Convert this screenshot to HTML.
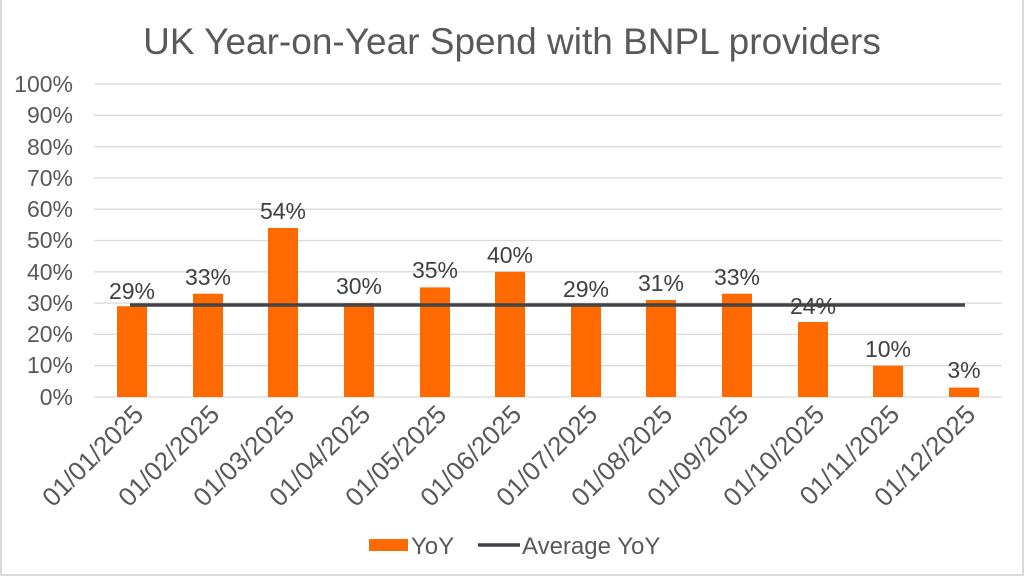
<!DOCTYPE html>
<html><head><meta charset="utf-8"><style>
html,body{margin:0;padding:0;background:#fff}
svg{display:block;font-family:"Liberation Sans",Arial,sans-serif}
</style></head><body>
<svg width="1024" height="577" viewBox="0 0 1024 577" xmlns="http://www.w3.org/2000/svg">
<rect x="0" y="0" width="1024" height="577" fill="#fff"/>
<rect x="1" y="-2" width="1022" height="577" fill="none" stroke="#d9d9d9" stroke-width="2"/>
<text x="512" y="54" text-anchor="middle" font-size="37" fill="#595959">UK Year-on-Year Spend with BNPL providers</text>
<g stroke="#d9d9d9" stroke-width="1.3">
<line x1="94" x2="1002" y1="84" y2="84"/><line x1="94" x2="1002" y1="115.3" y2="115.3"/>
<line x1="94" x2="1002" y1="146.6" y2="146.6"/><line x1="94" x2="1002" y1="177.9" y2="177.9"/>
<line x1="94" x2="1002" y1="209.2" y2="209.2"/><line x1="94" x2="1002" y1="240.5" y2="240.5"/>
<line x1="94" x2="1002" y1="271.8" y2="271.8"/><line x1="94" x2="1002" y1="303.1" y2="303.1"/>
<line x1="94" x2="1002" y1="334.4" y2="334.4"/><line x1="94" x2="1002" y1="365.7" y2="365.7"/>
<line x1="94" x2="1002" y1="397" y2="397"/>
</g>
<g font-size="23" fill="#595959" text-anchor="end">
<text x="73" y="92">100%</text><text x="73" y="123">90%</text><text x="73" y="155">80%</text>
<text x="73" y="186">70%</text><text x="73" y="217">60%</text><text x="73" y="248">50%</text>
<text x="73" y="280">40%</text><text x="73" y="311">30%</text><text x="73" y="342">20%</text>
<text x="73" y="373">10%</text><text x="73" y="405">0%</text>
</g>
<g fill="#ff6a00">
<rect x="117" y="306.2" width="30" height="90.8"/>
<rect x="193" y="293.7" width="30" height="103.3"/>
<rect x="268" y="228" width="30" height="169"/>
<rect x="344" y="303.1" width="30" height="93.9"/>
<rect x="420" y="287.4" width="30" height="109.6"/>
<rect x="495" y="271.8" width="30" height="125.2"/>
<rect x="571" y="306.2" width="30" height="90.8"/>
<rect x="646" y="300" width="30" height="97"/>
<rect x="722" y="293.7" width="30" height="103.3"/>
<rect x="798" y="322" width="30" height="75"/>
<rect x="873" y="365.7" width="30" height="31.3"/>
<rect x="949" y="387.6" width="30" height="9.4"/>
</g>
<line x1="130" x2="965" y1="305" y2="305" stroke="#404449" stroke-width="3.5"/>
<g font-size="23" fill="#404040" text-anchor="middle">
<text x="132" y="299">29%</text><text x="208" y="285">33%</text><text x="283" y="219">54%</text>
<text x="359" y="294">30%</text><text x="435" y="278">35%</text><text x="510" y="263">40%</text>
<text x="586" y="297">29%</text><text x="661" y="291">31%</text><text x="737" y="285">33%</text>
<text x="813" y="314">24%</text><text x="888" y="357">10%</text><text x="964" y="378">3%</text>
</g>
<g font-size="26" fill="#595959" text-anchor="end">
<text transform="translate(145,416) rotate(-45)">01/01/2025</text>
<text transform="translate(221,416) rotate(-45)">01/02/2025</text>
<text transform="translate(296,416) rotate(-45)">01/03/2025</text>
<text transform="translate(372,416) rotate(-45)">01/04/2025</text>
<text transform="translate(448,416) rotate(-45)">01/05/2025</text>
<text transform="translate(523,416) rotate(-45)">01/06/2025</text>
<text transform="translate(599,416) rotate(-45)">01/07/2025</text>
<text transform="translate(674,416) rotate(-45)">01/08/2025</text>
<text transform="translate(750,416) rotate(-45)">01/09/2025</text>
<text transform="translate(826,416) rotate(-45)">01/10/2025</text>
<text transform="translate(901,416) rotate(-45)">01/11/2025</text>
<text transform="translate(977,416) rotate(-45)">01/12/2025</text>
</g>
<rect x="369" y="539" width="39" height="12" fill="#ff6a00"/>
<text x="411" y="554" font-size="24" fill="#595959">YoY</text>
<line x1="478" x2="520" y1="545" y2="545" stroke="#404449" stroke-width="3.5"/>
<text x="522" y="554" font-size="24" fill="#595959">Average YoY</text>
</svg>
</body></html>
